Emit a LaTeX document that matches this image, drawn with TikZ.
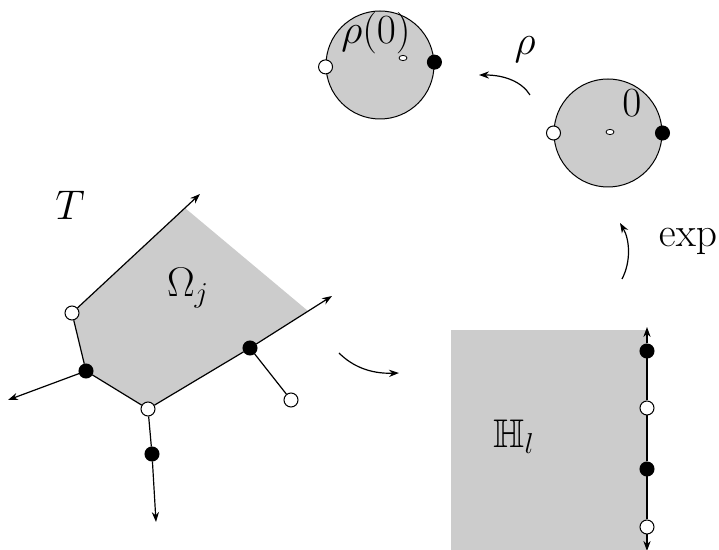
\documentclass[tikz,border=0pt]{standalone}
\usepackage{amsmath,amssymb}
\usetikzlibrary{arrows.meta,shapes.geometric}
\begin{document}
\begin{tikzpicture}[
  x=0.5pt,y=-0.5pt,
  disk/.style={circle,draw,fill=black!20,line width=0.5pt,minimum size=54pt,inner sep=0pt},
  hole/.style={ellipse,draw,fill=white,line width=0.4pt,minimum width=4pt,minimum height=2.6pt,inner sep=0pt},
  wdot/.style={circle,draw,fill=white,line width=0.5pt,minimum size=7pt,inner sep=0pt},
  bdot/.style={wdot,fill=black},
  lbl/.style={font=\fontsize{20}{24}\selectfont,inner sep=0pt},
  line/.style={line width=0.6pt},
  arrow/.style={-{Stealth[length=5pt,width=3.6pt]},line width=0.6pt}
]
\useasboundingbox (0,0) rectangle (719,550);
% discs
\node[disk] (rhodisk) at (380,65) {};
\node[disk] (disk) at (608,133) {};
\node[wdot] (rw) at (rhodisk.182) {};
\node[bdot] (rb) at (rhodisk.3) {};
\node[wdot] (dw) at (disk.180) {};
\node[bdot] (db) at (disk.0) {};
\node[hole] (rhohole) at (403,58) {};
\node[hole] (hole) at (610,132) {};
\node[lbl] (rho0) at (376,33) {$\rho(0)$};
\node[lbl] (zero) at (632,103) {$0$};
\node[lbl] (rho) at (525,50) {$\rho$};
\node[lbl] (exp) at (688,242) {$\exp$};
\coordinate (rs) at (530,95);
\coordinate (re) at (479,75);
\draw[arrow] (rs) .. controls (522,82) and (505,75) .. (re);
\coordinate (es) at (622,279);
\coordinate (ee) at (620,223);
\draw[arrow] (es) .. controls (631,262) and (630,240) .. (ee);
% tree
\node[lbl] (T) at (70,205) {$T$};
\coordinate (ptop) at (200,194);
\coordinate (pright) at (332,296);
\coordinate (pleft) at (8,400);
\coordinate (pbot) at (156,522);
\fill[black!20] (185,208) -- (72,313) -- (86,371) -- (148,409) -- (250,348) -- (308,311) -- cycle;
\node[lbl] (omega) at (188,288) {$\Omega_j$};
\node[wdot] (va) at (72,313) {};
\node[bdot] (vb) at (86,371) {};
\node[wdot] (vc) at (148,409) {};
\node[bdot] (vd) at (250,348) {};
\node[bdot] (ve) at (152,454) {};
\node[wdot] (vf) at (291,400) {};
\draw[arrow] (va) -- (ptop);
\draw[line] (va) -- (vb) -- (vc) -- (vd);
\draw[arrow] (vd) -- (pright);
\draw[arrow] (vb) -- (pleft);
\draw[line] (vc) -- (ve);
\draw[arrow] (ve) -- (pbot);
\draw[line] (vd) -- (vf);
\coordinate (ms) at (339,353);
\coordinate (me) at (399,373);
\draw[arrow] (ms) .. controls (352,366) and (370,374) .. (me);
% half plane
\fill[black!20] (451,330) rectangle (647,552);
\node[lbl] (hl) at (514,437) {$\mathbb{H}_l$};
\coordinate (htop) at (647,327);
\coordinate (hbot) at (647,551);
\node[bdot] (h1) at (647,351) {};
\node[wdot] (h2) at (647,408) {};
\node[bdot] (h3) at (647,469) {};
\node[wdot] (h4) at (647,527) {};
\draw[arrow] (h1) -- (htop);
\draw[line] (h1) -- (h2) -- (h3) -- (h4);
\draw[arrow] (h4) -- (hbot);
\end{tikzpicture}
\end{document}
